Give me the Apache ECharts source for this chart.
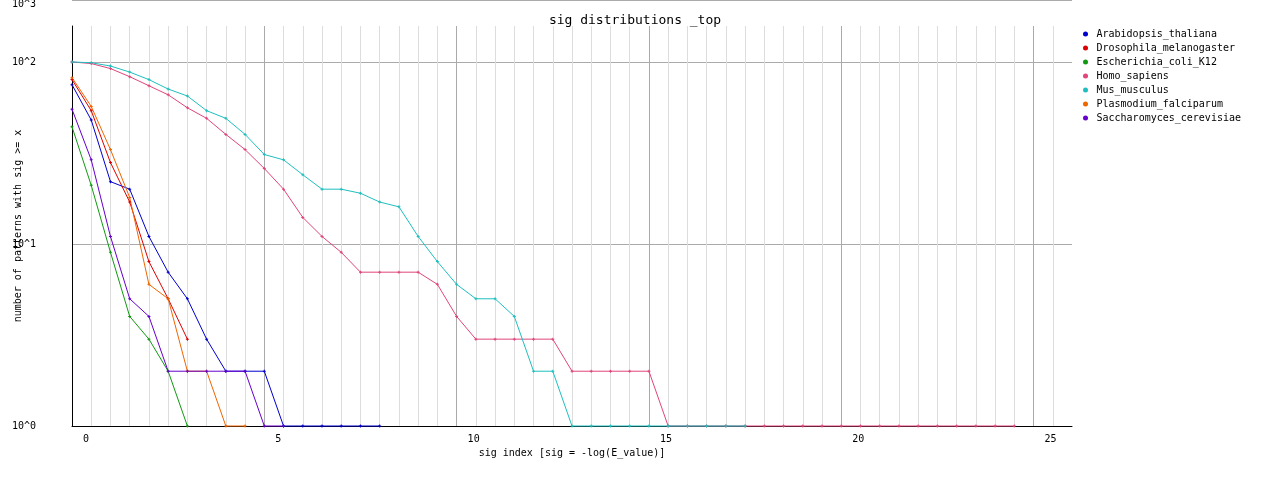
<!DOCTYPE html>
<html>
<head>
<meta charset="utf-8">
<script src="https://cdn.jsdelivr.net/npm/echarts@6/dist/echarts.min.js"></script>
<style>
html,body{margin:0;padding:0;background:#fff;}
#chart{width:1270px;height:478px;}
</style>
</head>
<body>
<div id="chart"></div>
<script>
// sig index values (x), step 0.5
const sigIndex = [0,0.5,1,1.5,2,2.5,3,3.5,4,4.5,5,5.5,6,6.5,7,7.5,8,8.5,9,9.5,10,10.5,11,11.5,12,12.5,13,13.5,14,14.5,15,15.5,16,16.5,17,17.5,18,18.5,19,19.5,20,20.5,21,21.5,22,22.5,23,23.5,24,24.5];

const seriesNames = ['Arabidopsis_thaliana','Drosophila_melanogaster','Escherichia_coli_K12','Homo_sapiens','Mus_musculus','Plasmodium_falciparum','Saccharomyces_cerevisiae'];

const arabidopsis = [75,48,22,20,11,7,5,3,2,2,2,1,1,1,1,1,1];
const drosophila = [80,54,28,17,8,5,3];
const escherichia = [44,21,9,4,3,2,1];
const homo = [100,98,92,83,74,66,56,49,40,33,26,20,14,11,9,7,7,7,7,6,4,3,3,3,3,3,2,2,2,2,2,1,1,1,1,1,1,1,1,1,1,1,1,1,1,1,1,1,1,1];
const mus = [100,99,95,88,80,71,65,54,49,40,31,29,24,20,20,19,17,16,11,8,6,5,5,4,2,2,1,1,1,1,1,1,1,1,1,1];
const plasmodium = [82,57,33,18,6,5,2,2,1,1];
const saccharomyces = [55,29,11,5,4,2,2,2,2,2,1,1];

const seriesValues = [arabidopsis, drosophila, escherichia, homo, mus, plasmodium, saccharomyces];
const seriesColors = ['#0000cc','#dd0000','#119911','#e0457b','#1fbfbf','#ee6600','#6600cc'];

const yTickLabel = v => {
  const e = Math.log10(v);
  return Math.abs(e - Math.round(e)) < 1e-6 ? '10^' + Math.round(e) : '';
};

const FONT = 'DejaVu Sans Mono';
const plusPath = 'path://M1,0H2V1H3V2H2V3H1V2H0V1H1Z';

const chart = echarts.init(document.getElementById('chart'), null, {renderer: 'canvas'});

const minorColor = '#dddddd';
const majorColor = '#aaaaaa';
const xSplitColors = [majorColor, minorColor, minorColor, minorColor, minorColor, minorColor, minorColor, minorColor, minorColor, minorColor];

chart.setOption({
  animation: false,
  backgroundColor: '#ffffff',
  title: {
    text: 'sig distributions _top',
    left: 'center',
    top: 9,
    textStyle: {fontFamily: FONT, fontSize: 13, fontWeight: 'normal', color: '#000'}
  },
  legend: {
    orient: 'vertical',
    left: 1078,
    top: 22,
    icon: 'circle',
    itemWidth: 12,
    itemHeight: 5,
    itemGap: 0,
    data: seriesNames,
    textStyle: {fontFamily: FONT, fontSize: 10, color: '#000', lineHeight: 14}
  },
  grid: {left: 72, right: 198, top: 26, bottom: 52, containLabel: false, outerBoundsMode: 'none'},
  xAxis: {
    type: 'value',
    min: 0,
    max: 26,
    interval: 0.5,
    name: 'sig index [sig = -log(E_value)]',
    nameLocation: 'middle',
    nameGap: 22,
    nameMoveOverlap: false,
    nameTextStyle: {fontFamily: FONT, fontSize: 10, color: '#000'},
    axisLine: {show: true, onZero: false, lineStyle: {color: '#000', width: 1}},
    axisTick: {show: false},
    axisLabel: {
      fontFamily: FONT, fontSize: 10, color: '#000', margin: 8,
      align: 'left', padding: [0, 0, 0, 11],
      formatter: v => (Math.abs(v % 5) < 1e-9 ? String(v) : '')
    },
    splitLine: {show: true, showMaxLine: false, lineStyle: {color: xSplitColors, width: 1}}
  },
  yAxis: {
    type: 'log',
    logBase: 10,
    min: 1,
    max: 157.6,
    name: 'number of patterns with sig >= x',
    nameLocation: 'middle',
    nameGap: 49,
    nameMoveOverlap: false,
    nameTextStyle: {fontFamily: FONT, fontSize: 10, color: '#000'},
    axisLine: {show: true, lineStyle: {color: '#000', width: 1}},
    axisTick: {show: false},
    axisLabel: {fontFamily: FONT, fontSize: 10, color: '#000', margin: 36, padding: [3, 0, 0, 0], formatter: yTickLabel},
    splitLine: {show: true, showMaxLine: false, lineStyle: {color: majorColor, width: 1}}
  },
  graphic: [
    {type: 'line', shape: {x1: 72, y1: 0.5, x2: 1072, y2: 0.5}, style: {stroke: majorColor, lineWidth: 1}, silent: true},
    {type: 'text', style: {text: '10^3', x: 36, y: 4, align: 'right', verticalAlign: 'middle', font: '10px "DejaVu Sans Mono"', fill: '#000'}, silent: true}
  ],
  series: seriesNames.map((name, i) => ({
    name: name,
    type: 'line',
    data: seriesValues[i].map((v, j) => [sigIndex[j], v]),
    symbol: plusPath,
    symbolSize: 3,
    showSymbol: true,
    clip: false,
    color: seriesColors[i],
    lineStyle: {width: 1, color: seriesColors[i]},
    itemStyle: {color: seriesColors[i]},
    emphasis: {disabled: true}
  }))
});
</script>
</body>
</html>
